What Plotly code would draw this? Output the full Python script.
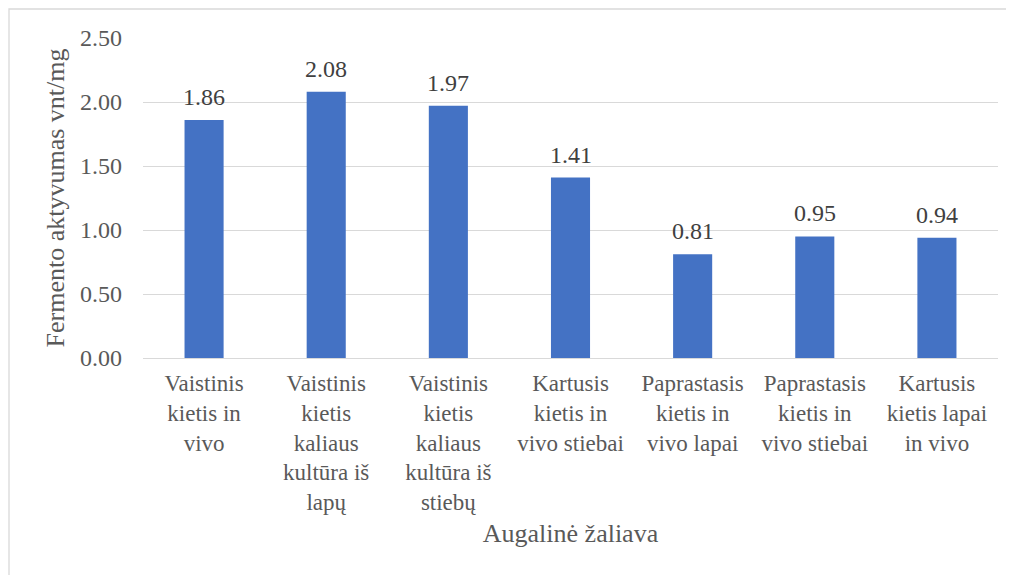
import plotly.graph_objects as go

categories = [
    "Vaistinis<br>kietis in<br>vivo",
    "Vaistinis<br>kietis<br>kaliaus<br>kultūra iš<br>lapų",
    "Vaistinis<br>kietis<br>kaliaus<br>kultūra iš<br>stiebų",
    "Kartusis<br>kietis in<br>vivo stiebai",
    "Paprastasis<br>kietis in<br>vivo lapai",
    "Paprastasis<br>kietis in<br>vivo stiebai",
    "Kartusis<br>kietis lapai<br>in vivo",
]
values = [1.86, 2.08, 1.97, 1.41, 0.81, 0.95, 0.94]
y_ticks = [0, 0.5, 1.0, 1.5, 2.0, 2.5]
y_ticklabels = ["0.00", "0.50", "1.00", "1.50", "2.00", "2.50"]

FONT = "Liberation Serif"
GRAY = "#595959"
W, H = 1014, 575
OFF = 8  # page body margin
L, R, T, B = 143 - OFF, W - (998 - OFF), 38 - OFF, H - (358 - OFF)

fig = go.Figure()
fig.add_trace(go.Bar(
    x=categories, y=values,
    marker=dict(color="#4472C4", line=dict(width=0)),
    width=0.32,
    hoverinfo="skip",
))

for c, v in zip(categories, values):
    fig.add_annotation(
        x=c, y=v, text=f"{v:.2f}", showarrow=False,
        yanchor="middle", yshift=23,
        font=dict(family=FONT, size=24, color="#404040"),
    )

pw = W - L - R
ph = H - T - B
fig.add_shape(
    type="rect", xref="paper", yref="paper",
    x0=(9 - OFF - L) / pw, x1=(W + 40 - L) / pw,
    y0=-(H + 40 - T - ph) / ph, y1=1 + (T - (9 - OFF)) / ph,
    line=dict(color="#d9d9d9", width=1.3), fillcolor="rgba(0,0,0,0)",
    layer="below",
)

fig.update_layout(
    width=W, height=H,
    margin=dict(l=L, r=R, t=T, b=B, autoexpand=False),
    paper_bgcolor="white", plot_bgcolor="white",
    showlegend=False,
    font=dict(family=FONT, size=23, color=GRAY),
    xaxis=dict(
        showgrid=False, showline=True, linecolor="#d9d9d9", linewidth=1.3,
        ticks="", tickfont=dict(family=FONT, size=23, color=GRAY),
        ticklabelstandoff=4,
        title=dict(text="Augalinė žaliava", font=dict(family=FONT, size=26, color=GRAY), standoff=9),
        automargin=False,
        fixedrange=True,
    ),
    yaxis=dict(
        range=[0, 2.5], tickvals=y_ticks, ticktext=y_ticklabels,
        showgrid=True, gridcolor="#d9d9d9", gridwidth=1.3,
        zeroline=False, showline=False, ticks="",
        ticklabelstandoff=20,
        tickfont=dict(family=FONT, size=24, color=GRAY),
        title=dict(text="Fermento aktyvumas vnt/mg", font=dict(family=FONT, size=26, color=GRAY), standoff=7),
        automargin=False,
        fixedrange=True,
    ),
)

fig.write_html("out.html")
